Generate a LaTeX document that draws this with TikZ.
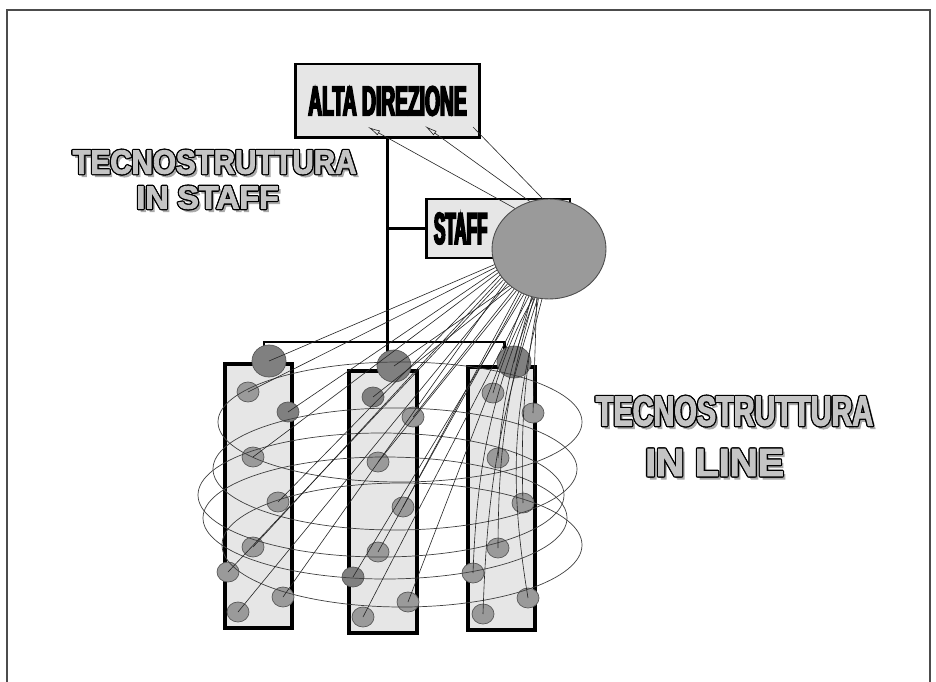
\documentclass[tikz,border=0pt]{standalone}
\usepackage{fontspec}
\setmainfont{Liberation Sans}
\newfontfamily\altafont{Liberation Sans}[FakeStretch=0.46, BoldFeatures={FakeBold=4}]
\newfontfamily\stafffont{Liberation Sans}[FakeStretch=0.38, BoldFeatures={FakeBold=4}]
\newfontfamily\tecnoleft{Liberation Sans}[FakeStretch=0.88, BoldFeatures={FakeBold=2.5}]
\newfontfamily\tecnoright{Liberation Sans}[FakeStretch=0.69, BoldFeatures={FakeBold=2.5}]
\newfontfamily\tecnoplain{Liberation Sans}[BoldFeatures={FakeBold=2.5}]
\usetikzlibrary{
	arrows.meta,
	positioning,
	shapes.geometric
}

\definecolor{boxgray}{HTML}{E6E6E6}
\definecolor{ballgray}{HTML}{9A9A9A}
\definecolor{balldark}{HTML}{808080}
\definecolor{lettergray}{HTML}{C4C4C4}
\definecolor{shadegray}{HTML}{AAAAAA}

\newcommand\wordlayer[4]{\rlap{\hspace*{#1}\raisebox{#2}{\color{#3}#4}}}
\newcommand\hollowword[1]{%
	\wordlayer{1.5pt}{-1.8pt}{shadegray}{#1}%
	\wordlayer{-0.75pt}{0pt}{black}{#1}%
	\wordlayer{0.75pt}{0pt}{black}{#1}%
	\wordlayer{0pt}{0.75pt}{black}{#1}%
	\wordlayer{0pt}{-0.75pt}{black}{#1}%
	\wordlayer{0.53pt}{0.53pt}{black}{#1}%
	\wordlayer{-0.53pt}{-0.53pt}{black}{#1}%
	\wordlayer{0.53pt}{-0.53pt}{black}{#1}%
	\wordlayer{-0.53pt}{0.53pt}{black}{#1}%
	\wordlayer{0pt}{0pt}{lettergray}{#1}%
	\hphantom{#1}}

\begin{document}
\begin{tikzpicture}[
			x=0.02cm, y=-0.02cm,
			frame/.style={draw=black!70, line width=0.8pt},
			fat/.style={line width=1.7pt, line join=miter},
			boxnode/.style={draw, line width=1.7pt, fill=boxgray, inner sep=0},
			column/.style={draw, line width=2.2pt, fill=boxgray, inner sep=0},
			ball/.style={ellipse, draw=black!65, line width=0.4pt, fill=ballgray, minimum width=0.44cm, minimum height=0.40cm, inner sep=0},
			darkball/.style={ball, fill=balldark},
			head/.style={ball, fill=balldark, minimum width=0.68cm, minimum height=0.64cm},
			blob/.style={ellipse, draw=black!70, line width=0.5pt, fill=ballgray, minimum width=2.28cm, minimum height=2cm, inner sep=0},
			ring/.style={draw=black!75, line width=0.4pt},
			thread/.style={black!85, line width=0.35pt},
			word/.style={inner sep=0}
		]

		\useasboundingbox (0,0) rectangle (936,682);
		\draw[frame] (7,682) -- (7,10) -- (930,10) -- (930,682);

		% boxes
		\node[boxnode, minimum width=3.7cm, minimum height=1.48cm] (alta) at (387.5,101) {\altafont\bfseries\fontsize{23.8pt}{24pt}\selectfont ALTA DIREZIONE};
		\node[boxnode, inner xsep=0.16cm, text width=2.56cm, align=left, minimum height=1.18cm] (staff) at (498,228.5) {\stafffont\bfseries\fontsize{25.4pt}{26pt}\selectfont STAFF};

		\node[column, minimum width=1.34cm, minimum height=5.28cm] (col1) at (258.5,496) {};
		\node[column, minimum width=1.36cm, minimum height=5.24cm] (col2) at (383,502) {};
		\node[column, minimum width=1.34cm, minimum height=5.26cm] (col3) at (501.5,498.5) {};

		% line structure
		\coordinate (barL) at (264,342);
		\coordinate (barR) at (504,342);
		\draw[fat] (alta.south) -- (alta.south |- col2.north);
		\draw[fat] (alta.south |- staff.west) -- (staff.west);
		\draw[fat] (barL |- col1.north) -- (barL) -- (barR) -- (barR |- col3.north);

		% units inside the columns
		\node[head] (lh) at (269,361) {};
		\node[ball] (l1) at (248,392) {};
		\node[darkball] (l2) at (288,412) {};
		\node[ball] (l3) at (253,457) {};
		\node[ball] (l4) at (278,502) {};
		\node[ball] (l5) at (253,547) {};
		\node[ball] (l6) at (228,572) {};
		\node[ball] (l7) at (283,597) {};
		\node[ball] (l8) at (238,612) {};

		\node[head] (mh) at (394,366) {};
		\node[darkball] (m1) at (373,397) {};
		\node[ball] (m2) at (413,417) {};
		\node[ball] (m3) at (378,462) {};
		\node[ball] (m4) at (403,507) {};
		\node[ball] (m5) at (378,552) {};
		\node[darkball] (m6) at (353,577) {};
		\node[ball] (m7) at (408,602) {};
		\node[ball] (m8) at (363,617) {};

		\node[head] (rh) at (514,362) {};
		\node[ball] (r1) at (493,393) {};
		\node[ball] (r2) at (533,413) {};
		\node[ball] (r3) at (498,458) {};
		\node[ball] (r4) at (523,503) {};
		\node[ball] (r5) at (498,548) {};
		\node[ball] (r6) at (473,573) {};
		\node[ball] (r7) at (528,598) {};
		\node[ball] (r8) at (483,614) {};

		% rings
		\draw[ring] (400,422) ellipse [x radius=182, y radius=60];
		\draw[ring] (395,469) ellipse [x radius=182, y radius=61];
		\draw[ring] (381,495) ellipse [x radius=183, y radius=62];
		\draw[ring] (385,518) ellipse [x radius=182, y radius=61];
		\draw[ring] (402,545) ellipse [x radius=180, y radius=62];

		\node[blob] (tecno) at (549,249) {};

		% threads from the staff unit
		\draw[thread] (tecno.196) -- (lh.center);
		\draw[thread] (tecno.199) -- (l1.center);
		\draw[thread] (tecno.202) -- (l2.center);
		\draw[thread] (tecno.205) -- (l3.center);
		\draw[thread] (tecno.208) -- (l4.center);
		\draw[thread] (tecno.211) -- (l5.center);
		\draw[thread] (tecno.214) -- (l6.center);
		\draw[thread] (tecno.217) -- (l7.center);
		\draw[thread] (tecno.220) -- (l8.center);
		\draw[thread] (tecno.223) -- (mh.center);
		\draw[thread] (tecno.226) -- (m1.center);
		\draw[thread] (tecno.229) -- (m2.center);
		\draw[thread] (tecno.232) -- (m3.center);
		\draw[thread] (tecno.235) -- (m4.center);
		\draw[thread] (tecno.238) -- (m5.center);
		\draw[thread] (tecno.241) -- (m6.center);
		\draw[thread] (tecno.244) -- (m7.center);
		\draw[thread] (tecno.247) -- (m8.center);
		\draw[thread] (tecno.250) -- (rh.center);
		\draw[thread] (tecno.252) to[bend right=6] (r1.center);
		\draw[thread] (tecno.256) -- (r2.center);
		\draw[thread] (tecno.254) to[bend right=8] (r3.center);
		\draw[thread] (tecno.258) to[bend right=6] (r4.center);
		\draw[thread] (tecno.253) to[bend right=8] (r5.center);
		\draw[thread] (tecno.251) to[bend right=10] (r6.center);
		\draw[thread] (tecno.262) to[bend right=12] (r7.center);
		\draw[thread] (tecno.257) to[bend right=8] (r8.center);

		% back to the top
		\coordinate (a1) at (368,127);
		\coordinate (a2) at (425,126);
		\coordinate (a3) at (473,127);
		\draw[thread, -{Latex[open, length=7pt, width=3pt]}] (tecno.130) -- (a1);
		\draw[thread, -{Latex[open, length=7pt, width=3pt]}] (tecno.112) -- (a2);
		\draw[thread] (tecno.97) -- (a3);

		% titles
		\node[word] (staffline) at (214.5,163) {\hollowword{\tecnoleft\bfseries\fontsize{19.1pt}{20pt}\selectfont TECNOSTRUTTURA}};
		\node[word, below=0.14cm of staffline, xshift=-0.14cm] (staffname) {\hollowword{\tecnoplain\bfseries\fontsize{18.3pt}{19pt}\selectfont IN STAFF}};
		\node[word] (lineline) at (734.5,412) {\hollowword{\tecnoright\bfseries\fontsize{23.8pt}{24pt}\selectfont TECNOSTRUTTURA}};
		\node[word, below=0.36cm of lineline, xshift=-0.4cm] (linename) {\hollowword{\tecnoplain\bfseries\fontsize{22.2pt}{23pt}\selectfont IN LINE}};
	\end{tikzpicture}
\end{document}
